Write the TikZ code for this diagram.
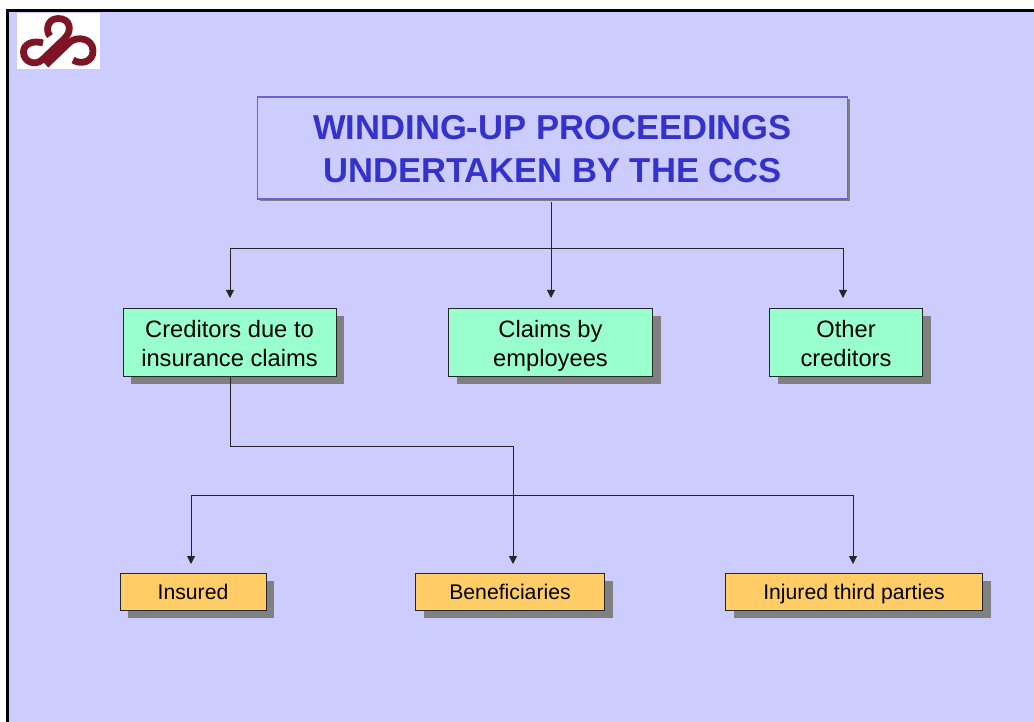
\documentclass[tikz,border=0pt]{standalone}
\usepackage{fontspec}
\setmainfont{Liberation Sans}
\definecolor{slidebg}{HTML}{CCCCFF}
\definecolor{titleblue}{HTML}{3333CC}
\definecolor{titleedge}{HTML}{6666CC}
\definecolor{greenbox}{HTML}{99FFCC}
\definecolor{orangebox}{HTML}{FFCC66}
\definecolor{shadowgrey}{HTML}{808080}
\definecolor{logored}{HTML}{7F1426}
\usetikzlibrary{shadows,arrows.meta}
\newcommand\lowtext[2]{\raisebox{-#1}[\ht\strutbox][\dp\strutbox]{#2}}
\tikzset{
 x=1pt,y=-1pt,
 greenstyle/.style={rectangle,draw=black!85,line width=1pt,fill=greenbox,align=center,inner sep=0pt,font=\fontsize{23.7}{29}\selectfont,text=black,
   drop shadow={shadow xshift=8pt,shadow yshift=-8pt,opacity=1,fill=shadowgrey}},
 orangestyle/.style={rectangle,draw=black!85,line width=1pt,fill=orangebox,align=center,inner sep=0pt,font=\fontsize{21.2}{25}\selectfont,text=black,
   drop shadow={shadow xshift=8pt,shadow yshift=-8pt,opacity=1,fill=shadowgrey}},
 titlestyle/.style={rectangle,draw=titleedge,line width=1.2pt,fill=slidebg,align=center,inner sep=0pt,font=\fontsize{34.6}{43}\selectfont\bfseries,text=titleblue,
   drop shadow={shadow xshift=2.5pt,shadow yshift=-2.5pt,opacity=1,fill=shadowgrey}},
 conn/.style={draw=black!85,line width=1pt},
 arr/.style={conn,-{Triangle[length=8pt,width=8pt]}},
 logostroke/.style={draw=logored,line width=6.8pt,line cap=butt}
}
\begin{document}
\begin{tikzpicture}
\useasboundingbox (0,0) rectangle (1034,722);
\fill[white] (0,0) rectangle (1034,722);
\fill[slidebg] (7,10) rectangle (1034,722);
\draw[black,line width=3pt] (7.3,722) -- (7.3,10.5) -- (1034,10.5);
\fill[white] (17,13) rectangle (100,69);
\draw[logostroke] (50,36) .. controls (46,32) and (46,19) .. (58,18.5) .. controls (71,18.5) and (72,31) .. (65,38) -- (42,60) .. controls (35,66) and (23.5,62) .. (23.5,52) .. controls (23.5,44) and (33,40) .. (43,43);
\draw[logostroke] (46,65) -- (70,42) .. controls (77,36) and (93,38) .. (93,51) .. controls (93,62) and (81,65) .. (73,60);
\node[titlestyle,minimum width=590,minimum height=102] (title) at (552.5,148) {\lowtext{4pt}{WINDING-UP PROCEEDINGS}\\\lowtext{4pt}{UNDERTAKEN BY THE CCS}};
\node[greenstyle,minimum width=213,minimum height=68] (cred) at (229.5,342) {\lowtext{3.7pt}{Creditors due to}\\\lowtext{3.7pt}{insurance claims}};
\node[greenstyle,minimum width=204,minimum height=68] (emp) at (550.5,342) {\lowtext{3.7pt}{Claims by}\\\lowtext{3.7pt}{employees}};
\node[greenstyle,minimum width=153,minimum height=68] (other) at (846,342) {\lowtext{3.7pt}{Other}\\\lowtext{3.7pt}{creditors}};
\node[orangestyle,minimum width=146,minimum height=37] (ins) at (193,591.8) {\lowtext{3pt}{Insured}};
\node[orangestyle,minimum width=189,minimum height=37] (ben) at (510,591.8) {\lowtext{3pt}{Beneficiaries}};
\node[orangestyle,minimum width=257,minimum height=37] (inj) at (854,591.8) {\lowtext{3pt}{Injured third parties}};
\coordinate (t0) at (551,202);
\coordinate (t1) at (551,249);
\coordinate (a1) at (230,298);
\coordinate (a2) at (551,298);
\coordinate (a3) at (843,298);
\coordinate (c0) at (230,376);
\coordinate (t2) at (513,446);
\coordinate (t3) at (513,495);
\coordinate (b1) at (191,564);
\coordinate (b2) at (513,564);
\coordinate (b3) at (853,564);
\draw[arr] (t0) -- (a2);
\draw[arr] (t1) -| (a1);
\draw[arr] (t1) -| (a3);
\draw[conn] (c0) |- (t2);
\draw[arr] (t2) -- (b2);
\draw[arr] (t3) -| (b1);
\draw[arr] (t3) -| (b3);
\end{tikzpicture}
\end{document}
